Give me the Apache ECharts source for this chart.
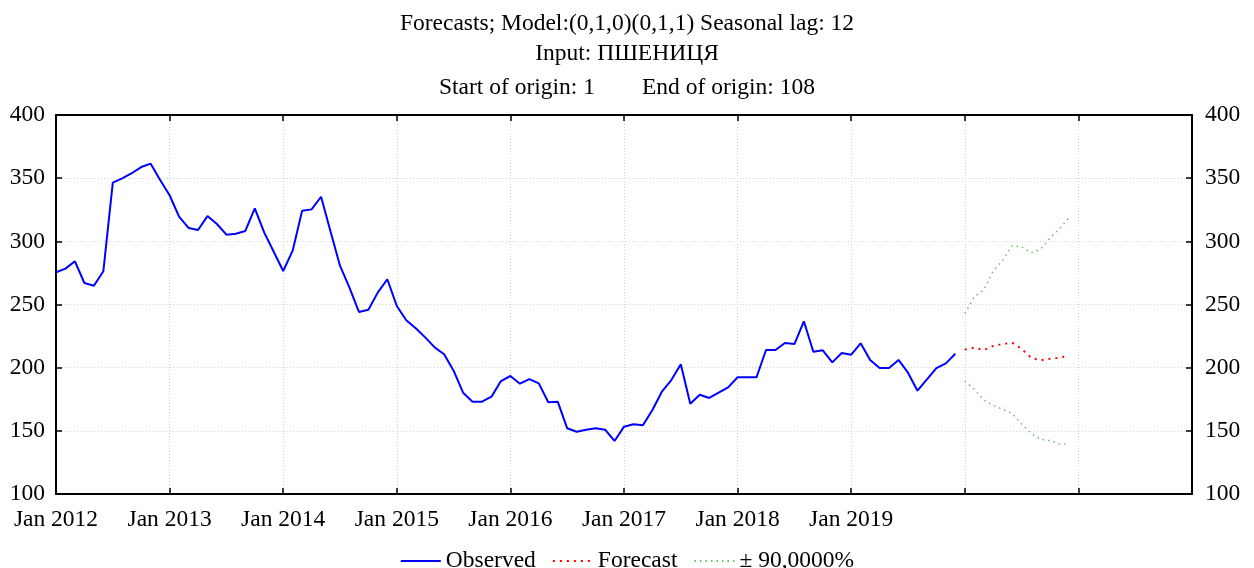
<!DOCTYPE html>
<html>
<head>
<meta charset="utf-8">
<script src="https://cdn.jsdelivr.net/npm/echarts@6/dist/echarts.min.js"></script>
<style>
  html, body { margin: 0; padding: 0; background: #fff; }
  #chart { width: 1254px; height: 568px; }
</style>
</head>
<body>
<div id="chart"></div>
<script>
// months counted from Jan 2012 (index 0)
const observed = [
  275.5, 278.4, 284.2, 267, 264.9, 276.3, 346.4, 349.9, 353.9, 358.8, 361.5, 348.6,
  336.5, 319.5, 310.6, 309, 320, 313.7, 305.3, 306, 308.2, 326.1, 306.9, 291.8,
  276.5, 292.6, 324.3, 325.3, 335.3, 307.7, 280.7, 263.3, 244.1, 245.9, 259.6, 270,
  248.8, 237.5, 231.2, 224, 216.1, 210.6, 197.6, 180.2, 173.1, 173.1, 177, 189.4,
  193.4, 187.3, 191, 187.6, 172.6, 173.1, 152, 149.3, 150.9, 152, 150.9, 142,
  153.3, 155.2, 154.4, 166.5, 181, 190.2, 202.7, 171.5, 178.6, 176, 180.2, 184.4,
  192.4, 192.4, 192.4, 214, 214, 219.5, 218.7, 236.7, 212.6, 213.7, 204.2, 211.6,
  210.3, 219.3, 206.1, 199.7, 199.7, 206.1, 196, 181.8, 190.8, 199.7, 203.4, 211
]
const forecast = [214.3, 215.8, 214, 217.2, 218.7, 219.8, 214.8, 207.9, 205.8, 207.1, 207.9, 209.5]
const upper = [243, 256.2, 261.5, 276.5, 285.2, 296.5, 295.5, 291, 293.7, 302.6, 310, 318.5]
const lower = [189.4, 182.9, 174.4, 170.2, 167, 163.8, 155.4, 148, 143.3, 142.2, 139.6, 139.6]
const yearLabels = ['Jan 2012', 'Jan 2013', 'Jan 2014', 'Jan 2015', 'Jan 2016', 'Jan 2017', 'Jan 2018', 'Jan 2019']

const font = 'Liberation Serif, Times New Roman, serif'
const fcStart = observed.length
const toPairs = (arr, start) => arr.map((v, i) => [start + i, v])

const chart = echarts.init(document.getElementById('chart'), null, { renderer: 'canvas' })

const gridLine = { show: true, lineStyle: { color: '#d4d4d4', type: [1, 2], width: 1 } }
const titleText = { fontFamily: font, fontSize: 23.5, fontWeight: 'normal', color: '#000' }

chart.setOption({
  animation: false,
  backgroundColor: '#fff',
  textStyle: { fontFamily: font, color: '#000' },
  title: [
    { text: 'Forecasts; Model:(0,1,0)(0,1,1) Seasonal lag: 12', left: 'center', top: 7, textStyle: titleText },
    { text: 'Input: ПШЕНИЦЯ', left: 'center', top: 37, textStyle: titleText },
    { text: 'Start of origin: 1        End of origin: 108', left: 'center', top: 71, textStyle: titleText },
  ],
  grid: { left: 56, right: 62, top: 115, bottom: 74 },
  legend: {
    top: 544,
    left: 'center',
    itemWidth: 40,
    itemHeight: 14,
    itemGap: 16,
    itemStyle: { opacity: 0 },
    textStyle: { fontFamily: font, fontSize: 23.5, color: '#000' },
    data: ['Observed', 'Forecast', '± 90,0000%'],
  },
  xAxis: [
    {
      type: 'value', min: 0, max: 120, interval: 12,
      axisLine: { show: true, onZero: false, lineStyle: { color: '#000', width: 2 } },
      axisTick: { show: true, inside: true, length: 6, lineStyle: { color: '#000', width: 1.5 } },
      axisLabel: {
        fontFamily: font, fontSize: 23.5, color: '#000', margin: 14,
        showMinLabel: true, showMaxLabel: true,
        formatter: (v) => yearLabels[v / 12] || '',
      },
      splitLine: gridLine,
    },
    {
      type: 'value', position: 'top', min: 0, max: 120, interval: 12,
      axisLine: { show: true, lineStyle: { color: '#000', width: 2 } },
      axisTick: { show: true, inside: true, length: 6, lineStyle: { color: '#000', width: 1.5 } },
      axisLabel: { show: false },
      splitLine: { show: false },
    },
  ],
  yAxis: [
    {
      type: 'value', min: 100, max: 400, interval: 50,
      axisLine: { show: true, onZero: false, lineStyle: { color: '#000', width: 2 } },
      axisTick: { show: true, inside: true, length: 6, lineStyle: { color: '#000', width: 1.5 } },
      axisLabel: { fontFamily: font, fontSize: 23.5, color: '#000', margin: 11 },
      splitLine: gridLine,
    },
    {
      type: 'value', position: 'right', min: 100, max: 400, interval: 50,
      axisLine: { show: true, onZero: false, lineStyle: { color: '#000', width: 2 } },
      axisTick: { show: true, inside: true, length: 6, lineStyle: { color: '#000', width: 1.5 } },
      axisLabel: { fontFamily: font, fontSize: 23.5, color: '#000', margin: 13 },
      splitLine: { show: false },
    },
  ],
  series: [
    {
      name: 'Observed', type: 'line', symbol: 'none',
      data: toPairs(observed, 0),
      lineStyle: { color: '#0000ff', width: 2 },
      itemStyle: { color: '#0000ff' },
    },
    {
      name: 'Forecast', type: 'line', symbol: 'none',
      data: toPairs(forecast, fcStart),
      lineStyle: { color: '#ff0000', width: 2, type: [2, 5] },
      itemStyle: { color: '#ff0000' },
    },
    {
      name: '± 90,0000%', type: 'line', symbol: 'none',
      data: toPairs(upper, fcStart),
      lineStyle: { color: '#6cbf6c', width: 1.5, type: [1.5, 4] },
      itemStyle: { color: '#6cbf6c' },
    },
    {
      name: '± 90,0000%', type: 'line', symbol: 'none',
      data: toPairs(lower, fcStart),
      lineStyle: { color: '#6cbf6c', width: 1.5, type: [1.5, 4] },
      itemStyle: { color: '#6cbf6c' },
    },
  ],
})
</script>
</body>
</html>
